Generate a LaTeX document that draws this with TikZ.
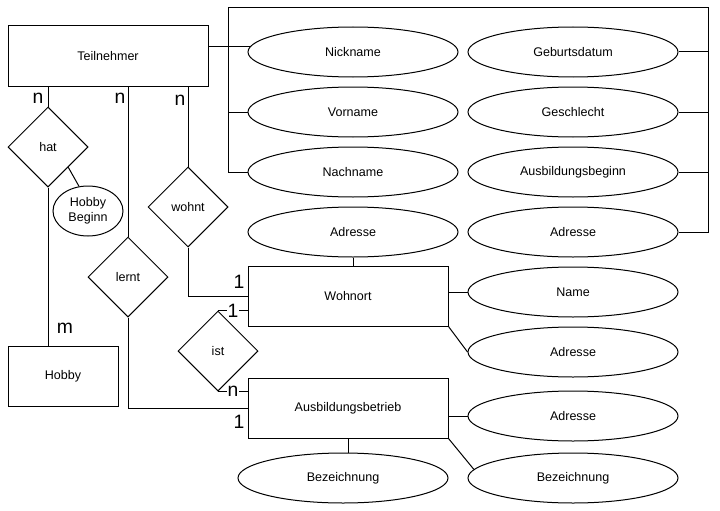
\documentclass[tikz,border=0pt]{standalone}
\usepackage{fontspec}
\setmainfont{Liberation Sans}
\usetikzlibrary{shapes.geometric}
\begin{document}
\begin{tikzpicture}[x=0.75pt,y=-0.75pt,line width=0.75pt,
  every node/.style={font=\fontsize{9.4pt}{11.5pt}\selectfont},
  ent/.style={draw,rectangle,minimum width=150pt,minimum height=45pt,inner sep=0pt},
  attr/.style={draw,ellipse,minimum width=157.5pt,minimum height=37.5pt,inner sep=0pt},
  rel/.style={draw,diamond,minimum width=60pt,minimum height=60pt,inner sep=0pt},
  card/.style={font=\fontsize{14.5pt}{16pt}\selectfont,fill=white,inner sep=0.8pt}]
\useasboundingbox (0,0) rectangle (720,510);
% entities
\node[ent] (T) at (108,56) {Teilnehmer};
\node[ent] (W) at (348,296) {Wohnort};
\node[ent] (AB) at (348,408) {Ausbildungsbetrieb};
\node[ent,minimum width=82.5pt] (H) at (63,376) {Hobby};
% attributes
\node[attr] (Nick) at (353,52) {Nickname};
\node[attr] (Vor) at (353,112) {Vorname};
\node[attr] (Nach) at (353,172) {Nachname};
\node[attr] (AdrA) at (353,232) {Adresse};
\node[attr] (Geb) at (573,52) {Geburtsdatum};
\node[attr] (Ges) at (573,112) {Geschlecht};
\node[attr] (Ausb) at (573,172) {Ausbildungsbeginn};
\node[attr] (AdrB) at (573,232) {Adresse};
\node[attr] (Name) at (573,292) {Name};
\node[attr] (AdrC) at (573,352) {Adresse};
\node[attr] (AdrD) at (573,416) {Adresse};
\node[attr] (BezB) at (573,478) {Bezeichnung};
\node[attr] (BezA) at (343,478) {Bezeichnung};
\node[draw,ellipse,minimum width=52.5pt,minimum height=37.5pt,inner sep=0pt,align=center] (HB) at (88,211) {Hobby\\Beginn};
% relationships
\node[rel] (hat) at (48,147) {hat};
\node[rel] (lernt) at (128,277) {lernt};
\node[rel] (wohnt) at (188,207) {wohnt};
\node[rel] (ist) at (218,351) {ist};
% bracket coordinates
\coordinate (bl) at (228,8);
\coordinate (br) at (708,8);
% connectors
\draw (T.east |- Nick.177) -- (Nick.177);
\draw (Nach.west) -| (bl) -- (br) |- (AdrB.east);
\draw (Vor.west) -- (bl |- Vor.west);
\draw (Geb.east) -- (br |- Geb.east);
\draw (Ges.east) -- (br |- Ges.east);
\draw (Ausb.east) -- (br |- Ausb.east);
\draw (T.south -| hat.north) -- (hat.north);
\draw (T.south -| lernt.north) -- (lernt.north);
\draw (T.south -| wohnt.north) -- (wohnt.north);
\draw (hat.south) -- (H.north -| hat.south);
\draw (hat.south east) -- (HB.110);
\draw (lernt.south) |- (AB.west);
\draw (wohnt.south) |- (W.west);
\draw (ist.north) -- (ist.north -| W.west);
\draw (ist.south) -- (ist.south -| AB.west);
\draw (AdrA.south) -- (AdrA.south |- W.north);
\draw (Name.west) -- (Name.west -| W.east);
\draw (W.south east) -- (AdrC.west);
\draw (AdrD.west) -- (AdrD.west -| AB.east);
\draw (AB.south east) -- (BezB.175);
\draw (AB.south) -- (AB.south |- BezA.north);
% cardinalities
\node[card] (c1) at (38,98) {n};
\node[card] (c2) at (120,98) {n};
\node[card] (c3) at (180,100) {n};
\node[card] (c4) at (65,328) {m};
\node[card] (c5) at (239,282) {1};
\node[card] (c6) at (233,311) {1};
\node[card] (c7) at (233,391) {n};
\node[card] (c8) at (239,422) {1};
\end{tikzpicture}
\end{document}
